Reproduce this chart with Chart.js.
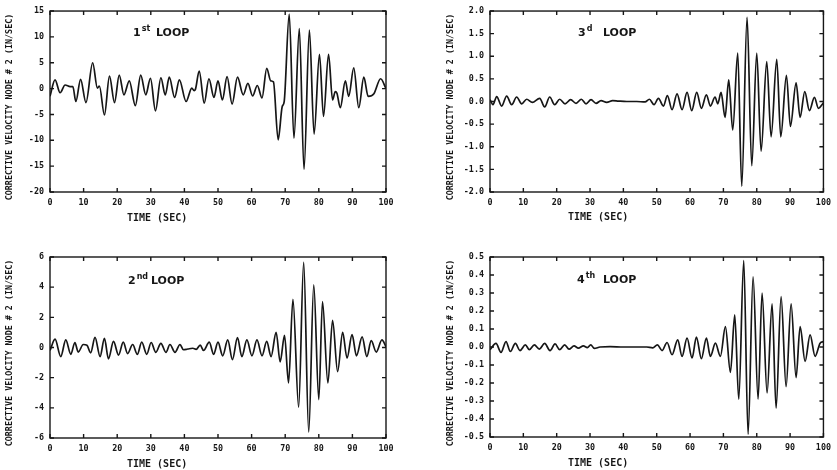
<!DOCTYPE html>
<html>
<head>
<meta charset="utf-8">
<script src="https://cdn.jsdelivr.net/npm/chart.js@4/dist/chart.umd.min.js"></script>
<style>
  body { margin: 0; background: #fff; }
  .panel { position: absolute; }
</style>
</head>
<body>
<div class="panel" style="left:0;top:0"><canvas id="c1" width="418" height="235"></canvas></div>
<div class="panel" style="left:420px;top:0"><canvas id="c3" width="417" height="235"></canvas></div>
<div class="panel" style="left:0;top:235px"><canvas id="c2" width="418" height="235"></canvas></div>
<div class="panel" style="left:420px;top:235px"><canvas id="c4" width="417" height="235"></canvas></div>
<script>
// time axis ticks (sec)
const timeTicks = [0, 10, 20, 30, 40, 50, 60, 70, 80, 90, 100];

// 1st loop - peaks and troughs
const loop1T = [0, 1.5, 3, 4.5, 6, 6.8, 7.7, 9.1, 10.7, 12.7, 14.1, 14.7, 16.2, 17.7, 19.2, 20.6, 22, 23.6, 25.4, 27, 28.5, 29.9, 31.4, 33, 34.3, 35.5, 37.1, 38.5, 40.5, 42.2, 42.9, 43.3, 44.4, 45.9, 47.3, 48.8, 50, 51.3, 52.7, 54.2, 55.8, 57.5, 58.9, 60.3, 61.7, 63.1, 64.5, 65.7, 66.5, 67.9, 69.1, 69.7, 71.2, 72.6, 74.2, 75.6, 77.2, 78.6, 80.2, 81.4, 82.9, 84.1, 84.9, 85.4, 86.4, 87.9, 88.9, 90.4, 91.9, 93.4, 94.7, 96.4, 98.4, 100];
const loop1V = [-1.5, 1.7, -0.8, 0.7, 0.4, 0.4, -2.5, 1.8, -2.7, 5.0, 0.1, 0.5, -5.1, 2.4, -2.7, 2.6, -1.2, 1.5, -3.3, 2.6, -1.2, 2.0, -4.3, 2.1, -1.2, 2.2, -1.7, 1.7, -2.5, 0.1, -0.4, -0.1, 3.4, -2.8, 1.9, -1.7, 1.5, -2.2, 2.3, -3.0, 2.2, -1.2, 1.0, -1.4, 0.6, -1.8, 3.9, 1.5, 1.3, -9.9, -3.5, -2.5, 14.4, -9.6, 11.6, -15.6, 11.3, -8.8, 6.6, -5.4, 6.6, -2.2, -0.6, -0.9, -3.7, 1.5, -1.5, 4.0, -3.7, 2.2, -1.5, -1.0, 1.9, 0];

// 2nd loop
const loop2T = [0, 1.5, 3.2, 4.7, 6.2, 7.4, 8.4, 9.9, 11.0, 12.1, 13.4, 14.9, 16.2, 17.4, 18.9, 20.4, 21.8, 23.1, 24.6, 26, 27.3, 28.8, 30.1, 31.5, 33, 34.5, 35.7, 37.2, 38.7, 39.7, 41, 42.5, 43.5, 44.7, 45.7, 47.4, 48.7, 50, 51.4, 52.9, 54.3, 55.8, 57.1, 58.6, 60.1, 61.6, 63.1, 64.5, 65.8, 67.3, 68.5, 69.8, 71, 72.3, 74, 75.5, 77, 78.5, 80, 81.1, 82.7, 84.1, 85.6, 87.1, 88.4, 89.9, 91.2, 92.9, 94.3, 95.6, 97.1, 98.8, 100];
const loop2V = [-0.2, 0.55, -0.6, 0.5, -0.45, 0.33, -0.3, 0.2, 0.15, -0.35, 0.67, -0.6, 0.6, -0.75, 0.4, -0.5, 0.35, -0.4, 0.2, -0.45, 0.35, -0.45, 0.33, -0.32, 0.28, -0.32, 0.2, -0.32, 0.2, -0.15, -0.1, -0.05, -0.12, 0.16, -0.2, 0.35, -0.45, 0.35, -0.55, 0.5, -0.8, 0.65, -0.6, 0.5, -0.55, 0.5, -0.55, 0.4, -0.6, 1.0, -0.95, 0.8, -2.35, 3.2, -3.95, 5.65, -5.6, 4.15, -3.45, 3.05, -2.35, 1.8, -1.6, 1.0, -0.7, 0.85, -0.55, 0.7, -0.6, 0.45, -0.3, 0.5, 0.05];

// 3d loop
const loop3T = [0, 0.9, 2, 3.5, 5, 6.5, 8, 9.5, 11, 12.7, 14.9, 16.4, 17.9, 19.4, 20.9, 22.5, 24.2, 25.8, 27.4, 28.8, 30.3, 31.8, 33.3, 35, 36.8, 38.5, 41, 44, 46.5, 47.8, 49.2, 50.5, 52, 53.2, 54.6, 56.1, 57.6, 59.1, 60.5, 62, 63.4, 64.9, 66.1, 67.5, 68.3, 69.3, 70.5, 71.6, 72.8, 74.3, 75.5, 77.1, 78.5, 80, 81.3, 83, 84.3, 86, 87.2, 88.9, 90.1, 91.8, 93, 94.4, 95.8, 97.3, 98.5, 100];
const loop3V = [0.04, -0.07, 0.11, -0.1, 0.12, -0.07, 0.1, -0.05, 0.05, -0.02, 0.07, -0.12, 0.1, -0.07, 0.05, -0.05, 0.04, -0.04, 0.05, -0.05, 0.04, -0.04, 0.02, -0.02, 0.02, 0.01, 0.0, 0.0, -0.01, 0.05, -0.07, 0.07, -0.1, 0.13, -0.18, 0.17, -0.18, 0.2, -0.2, 0.2, -0.15, 0.15, -0.1, 0.1, -0.05, 0.2, -0.35, 0.48, -0.63, 1.07, -1.87, 1.86, -1.42, 1.07, -1.1, 0.88, -0.78, 0.93, -0.78, 0.58, -0.55, 0.41, -0.35, 0.22, -0.2, 0.09, -0.15, -0.03];

// 4th loop
const loop4T = [0, 1.8, 3.3, 4.8, 6.1, 7.6, 9, 10.6, 11.8, 13.3, 14.8, 16.4, 18, 19.5, 20.9, 22.4, 23.7, 25.2, 26.5, 28, 29.2, 30.2, 31.3, 33, 36, 40, 44, 47, 48.8, 50.2, 51.6, 53.1, 54.6, 56.3, 57.6, 59.1, 60.6, 61.9, 63.4, 64.9, 66.1, 67.6, 69.1, 70.6, 72.1, 73.4, 74.6, 76.1, 77.4, 78.9, 80.4, 81.6, 83.1, 84.6, 85.8, 87.3, 88.8, 90.3, 91.8, 93, 94.5, 96, 97.5, 99, 100];
const loop4V = [-0.015, 0.02, -0.03, 0.03, -0.025, 0.02, -0.02, 0.012, -0.015, 0.012, -0.012, 0.02, -0.02, 0.017, -0.015, 0.012, -0.012, 0.006, -0.006, 0.006, -0.004, 0.012, -0.008, 0.0, 0.002, 0.0, 0.0, 0.0, -0.005, 0.012, -0.02, 0.025, -0.043, 0.04, -0.052, 0.049, -0.061, 0.055, -0.065, 0.049, -0.052, 0.021, -0.052, 0.113, -0.141, 0.178, -0.29, 0.48, -0.485, 0.39, -0.29, 0.3, -0.255, 0.24, -0.34, 0.28, -0.22, 0.24, -0.17, 0.113, -0.08, 0.067, -0.052, 0.021, 0.03];

// y axis ranges / steps
const loop1Y = [-20, 15, 5];
const loop2Y = [-6, 6, 2];
const loop3Y = [-2, 2, 0.5];
const loop4Y = [-0.5, 0.5, 0.1];

const INK = '#161616';
const MONO = '"DejaVu Sans Mono", monospace';

// frame with inward ticks on all four sides, loop label and axis titles
const paperPlugin = {
  id: 'paper',
  afterDraw(chart, args, o) {
    const { ctx, chartArea: a } = chart;
    const x = chart.scales.x, y = chart.scales.y;
    ctx.save();
    ctx.strokeStyle = INK;
    ctx.lineWidth = 1.4;
    ctx.strokeRect(a.left, a.top, a.right - a.left, a.bottom - a.top);
    ctx.beginPath();
    x.ticks.forEach(t => {
      const px = x.getPixelForValue(t.value);
      ctx.moveTo(px, a.bottom); ctx.lineTo(px, a.bottom - 4);
      ctx.moveTo(px, a.top); ctx.lineTo(px, a.top + 4);
    });
    y.ticks.forEach(t => {
      const py = y.getPixelForValue(t.value);
      ctx.moveTo(a.left, py); ctx.lineTo(a.left + 4, py);
      ctx.moveTo(a.right, py); ctx.lineTo(a.right - 4, py);
    });
    ctx.stroke();

    ctx.fillStyle = INK;
    ctx.textBaseline = 'alphabetic';
    ctx.textAlign = 'left';
    ctx.font = 'bold 11px "DejaVu Sans"';
    ctx.fillText(o.num, o.lx, o.ly);
    const w = ctx.measureText(o.num).width;
    ctx.font = 'bold 8px "DejaVu Sans"';
    ctx.fillText(o.sup, o.lx + w + 1, o.ly - 5);
    ctx.font = 'bold 11px "DejaVu Sans"';
    ctx.fillText('LOOP', o.loopX, o.ly);

    // axis titles
    ctx.textBaseline = 'middle';
    ctx.font = 'bold 10px ' + MONO;
    ctx.fillText('TIME (SEC)', o.tx, o.ty);
    ctx.translate(o.yx, o.yy);
    ctx.rotate(-Math.PI / 2);
    ctx.textAlign = 'center';
    ctx.font = 'bold 8.4px ' + MONO;
    ctx.fillText('CORRECTIVE VELOCITY NODE # 2 (IN/SEC)', 0, 0);
    ctx.restore();
  }
};

function makeChart(id, times, values, yr, decimals, box, label) {
  const pts = times.map((t, i) => ({ x: t, y: values[i] }));
  new Chart(document.getElementById(id), {
    type: 'line',
    data: {
      datasets: [{
        data: pts,
        borderColor: INK,
        borderWidth: 1.7,
        pointRadius: 0,
        fill: false,
        cubicInterpolationMode: 'monotone'
      }]
    },
    options: {
      responsive: false,
      animation: false,
      events: [],
      layout: { padding: { top: box.top, right: box.right, left: 0, bottom: 0 } },
      plugins: { legend: { display: false }, tooltip: { enabled: false }, paper: label },
      scales: {
        x: {
          type: 'linear',
          min: timeTicks[0],
          max: timeTicks[timeTicks.length - 1],
          afterBuildTicks: s => { s.ticks = timeTicks.map(v => ({ value: v })); },
          afterFit: s => { s.height = box.xh; },
          grid: { display: false, drawTicks: false },
          border: { display: false },
          ticks: { padding: 6, color: INK, maxRotation: 0, font: { family: MONO, size: 8.4, weight: 'bold' } }
        },
        y: {
          min: yr[0],
          max: yr[1],
          afterFit: s => { s.width = box.yw; },
          grid: { display: false, drawTicks: false },
          border: { display: false },
          ticks: {
            stepSize: yr[2],
            padding: 6,
            color: INK,
            font: { family: MONO, size: 8.4, weight: 'bold' },
            callback: v => Number(v).toFixed(decimals)
          }
        }
      }
    },
    plugins: [paperPlugin]
  });
}

makeChart('c1', loop1T, loop1V, loop1Y, 0,
  { top: 11, right: 32, xh: 43, yw: 50 },
  { num: '1', sup: 'st', lx: 133, ly: 36, loopX: 156, tx: 127, ty: 218, yx: 10, yy: 107 });
makeChart('c3', loop3T, loop3V, loop3Y, 1,
  { top: 11, right: 11, xh: 43, yw: 70 },
  { num: '3', sup: 'd', lx: 158, ly: 36, loopX: 183, tx: 148, ty: 217, yx: 31, yy: 107 });
makeChart('c2', loop2T, loop2V, loop2Y, 0,
  { top: 22, right: 32, xh: 32, yw: 50 },
  { num: '2', sup: 'nd', lx: 128, ly: 49, loopX: 151, tx: 127, ty: 229, yx: 10, yy: 118 });
makeChart('c4', loop4T, loop4V, loop4Y, 1,
  { top: 22, right: 12, xh: 33, yw: 70 },
  { num: '4', sup: 'th', lx: 157, ly: 48, loopX: 183, tx: 148, ty: 228, yx: 31, yy: 118 });
</script>
</body>
</html>
